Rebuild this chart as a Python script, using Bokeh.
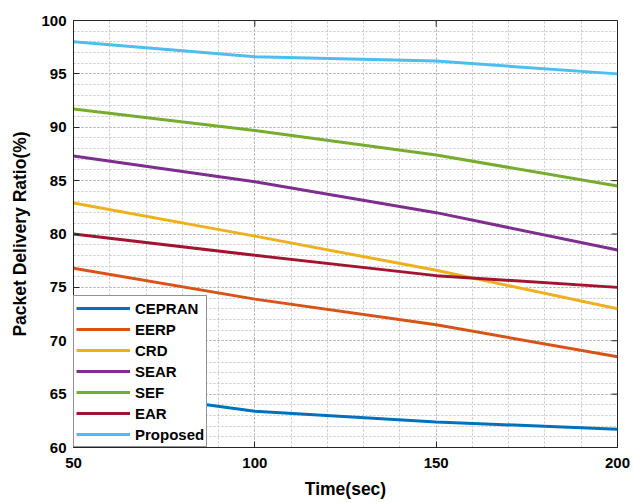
import math

from bokeh.plotting import figure
from bokeh.models import Range1d, FixedTicker, Legend, LegendItem
from bokeh.embed import file_html
from bokeh.resources import INLINE

# Packet delivery ratio (%) of each routing scheme over simulation time
time_sec = [50, 100, 150, 200]
cepran = [65.7, 63.4, 62.4, 61.7]
eerp = [76.8, 73.9, 71.5, 68.5]
crd = [82.9, 79.8, 76.6, 73.0]
sear = [87.3, 84.9, 82.0, 78.5]
sef = [91.7, 89.7, 87.4, 84.5]
ear = [80.0, 78.0, 76.1, 75.0]
proposed = [98.0, 96.6, 96.2, 95.0]

series_names = ["CEPRAN", "EERP", "CRD", "SEAR", "SEF", "EAR", "Proposed"]
series_values = [cepran, eerp, crd, sear, sef, ear, proposed]
series_colors = ["#0072BD", "#D95319", "#EDB120", "#7E2F8E", "#77AC30", "#A2142F", "#4DBEEE"]

x_ticks = [50, 100, 150, 200]
x_minor = list(range(50, 201, 10))
y_ticks = [60, 65, 70, 75, 80, 85, 90, 95, 100]
y_minor = list(range(60, 101, 1))

X_MIN, X_MAX = 50, 200
Y_MIN, Y_MAX = 60, 100

FONT = "Liberation Sans"
AXIS_COLOR = "#262626"

p = figure(
    width=633, height=503,
    x_range=Range1d(X_MIN, X_MAX), y_range=Range1d(Y_MIN, Y_MAX),
    output_backend="svg", toolbar_location=None,
    min_border_left=73, min_border_right=16,
    min_border_top=20, min_border_bottom=56,
)
p.background_fill_color = "white"
p.border_fill_color = "white"
p.outline_line_color = AXIS_COLOR
p.outline_line_width = 1

xt = FixedTicker(ticks=x_ticks, minor_ticks=x_minor)
yt = FixedTicker(ticks=y_ticks, minor_ticks=y_minor)
p.xaxis.ticker = xt
p.yaxis.ticker = yt

for ax in list(p.xaxis) + list(p.yaxis):
    ax.axis_line_color = AXIS_COLOR
    ax.axis_line_width = 1
    ax.major_tick_line_color = AXIS_COLOR
    ax.major_tick_in = 6
    ax.major_tick_out = 0
    ax.minor_tick_in = 0
    ax.minor_tick_out = 0
    ax.major_label_text_font = FONT
    ax.major_label_text_font_style = "bold"
    ax.major_label_text_font_size = "15px"
    ax.major_label_text_color = "black"
    ax.axis_label_text_font = FONT
    ax.axis_label_text_font_style = "bold"
    ax.axis_label_text_font_size = "17.5px"
    ax.axis_label_text_color = "black"

p.xaxis.major_label_standoff = 10
p.xaxis.axis_label = "Time(sec)"
p.xaxis.axis_label_standoff = 8
p.yaxis.major_label_standoff = 7
p.yaxis.axis_label = "Packet Delivery Ratio(%)"
p.yaxis.axis_label_standoff = 8

# inward tick marks on the top and right edges of the box
p.ray(x=x_ticks, y=[Y_MAX] * len(x_ticks), length=6, length_units="screen",
      angle=-math.pi / 2, line_color=AXIS_COLOR, line_width=1)
p.ray(x=[X_MAX] * len(y_ticks), y=y_ticks, length=6, length_units="screen",
      angle=math.pi, line_color=AXIS_COLOR, line_width=1)

# dotted major and minor grid
for g in (p.xgrid[0], p.ygrid[0]):
    g.grid_line_color = "#b0b0b0"
    g.grid_line_dash = "2 2"
    g.grid_line_width = 1
    g.minor_grid_line_color = "#c4c4c4"
    g.minor_grid_line_dash = "2 2"
    g.minor_grid_line_width = 1

items = []
for name, vals, col in zip(series_names, series_values, series_colors):
    r = p.line(time_sec, vals, line_color=col, line_width=3)
    items.append(LegendItem(label=name, renderers=[r]))

legend = Legend(
    items=items, location="bottom_left", margin=0, padding=2, spacing=1,
    glyph_width=54, glyph_height=20, label_height=20, label_standoff=5,
    label_text_font=FONT, label_text_font_style="bold", label_text_font_size="15px",
    label_text_color="black",
    border_line_color=AXIS_COLOR, border_line_width=1.5,
    background_fill_color="white", background_fill_alpha=1,
)
p.add_layout(legend)

open("out.html", "w").write(file_html(p, INLINE))
